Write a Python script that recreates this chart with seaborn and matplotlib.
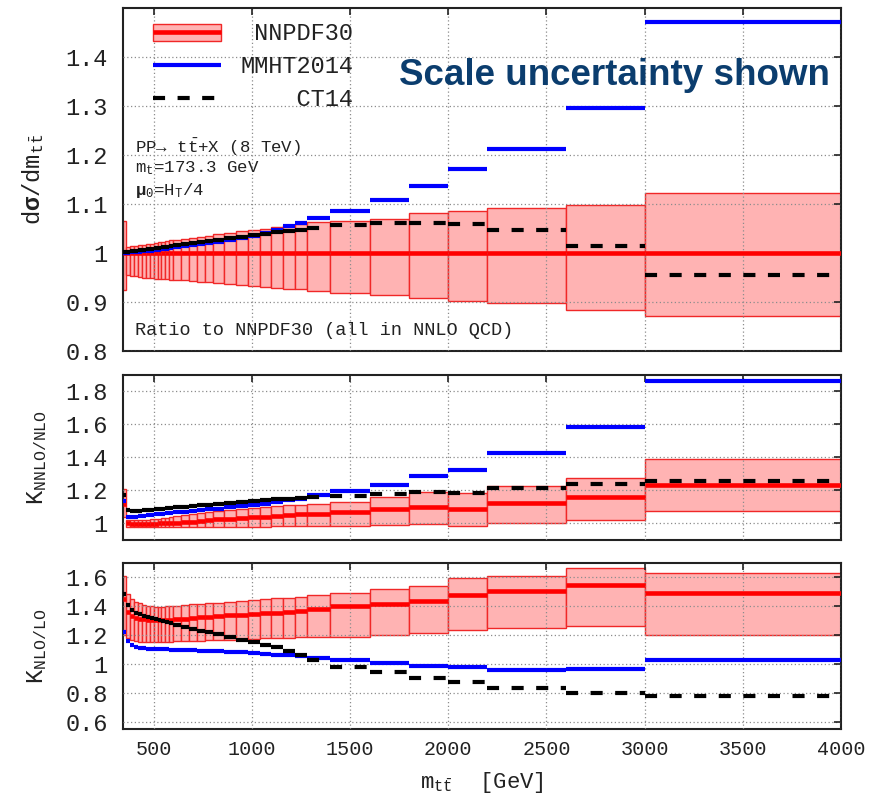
import numpy as np
import pandas as pd
import matplotlib
matplotlib.use("Agg")
import matplotlib.pyplot as plt
import seaborn as sns
from matplotlib.patches import Patch
from matplotlib.lines import Line2D
from matplotlib.legend_handler import HandlerTuple
from matplotlib.ticker import FuncFormatter

# ---------------- data ----------------
bin_edges = [345, 360, 380, 400, 420, 440, 460, 480, 500, 520, 540, 560, 580, 600,
             640, 680, 720, 760, 800, 860, 920, 980, 1040, 1100, 1160, 1220, 1280,
             1400, 1600, 1800, 2000, 2200, 2600, 3000, 4000]

# panel 1: ratio to NNPDF30
ratio_nnpdf = [1.0] * 34
ratio_nnpdf_up = [1.065, 1.013, 1.014, 1.015, 1.016, 1.017, 1.018, 1.019, 1.020, 1.022,
                  1.023, 1.024, 1.026, 1.027, 1.029, 1.031, 1.033, 1.035, 1.038, 1.041,
                  1.044, 1.047, 1.050, 1.053, 1.057, 1.060, 1.064, 1.066, 1.069, 1.082,
                  1.085, 1.092, 1.099, 1.122]
ratio_nnpdf_lo = [0.925, 0.955, 0.954, 0.953, 0.951, 0.950, 0.949, 0.948, 0.947, 0.947,
                  0.946, 0.946, 0.945, 0.945, 0.944, 0.943, 0.941, 0.940, 0.938, 0.936,
                  0.934, 0.932, 0.930, 0.928, 0.927, 0.926, 0.923, 0.918, 0.915, 0.908,
                  0.903, 0.897, 0.884, 0.871]
ratio_mmht = [1.001, 1.001, 1.002, 1.003, 1.003, 1.004, 1.004, 1.005, 1.006, 1.007,
              1.008, 1.009, 1.010, 1.012, 1.014, 1.016, 1.018, 1.020, 1.022, 1.026,
              1.030, 1.034, 1.040, 1.047, 1.055, 1.061, 1.071, 1.086, 1.109, 1.136,
              1.171, 1.213, 1.297, 1.472]
ratio_ct14 = [1.002, 1.003, 1.004, 1.005, 1.006, 1.007, 1.008, 1.009, 1.010, 1.011,
              1.012, 1.013, 1.015, 1.017, 1.019, 1.021, 1.023, 1.025, 1.027, 1.030,
              1.033, 1.036, 1.039, 1.042, 1.045, 1.048, 1.052, 1.057, 1.061, 1.061,
              1.059, 1.046, 1.015, 0.955]

# panel 2: K NNLO/NLO
knnlo_nnpdf = [1.120, 1.000, 0.997, 0.997, 0.997, 0.997, 0.998, 0.998, 0.999, 1.000,
               1.000, 1.000, 1.002, 1.005, 1.008, 1.012, 1.016, 1.020, 1.025, 1.030,
               1.035, 1.040, 1.042, 1.045, 1.050, 1.055, 1.060, 1.070, 1.085, 1.097,
               1.089, 1.125, 1.161, 1.236]
knnlo_nnpdf_up = [1.210, 1.020, 1.020, 1.020, 1.020, 1.022, 1.024, 1.026, 1.028, 1.030,
                  1.033, 1.036, 1.040, 1.045, 1.050, 1.056, 1.062, 1.067, 1.073, 1.080,
                  1.088, 1.095, 1.100, 1.105, 1.110, 1.115, 1.120, 1.131, 1.158, 1.188,
                  1.182, 1.230, 1.276, 1.388]
knnlo_nnpdf_lo = [1.040, 0.980, 0.978, 0.978, 0.978, 0.978, 0.978, 0.978, 0.978, 0.978,
                  0.978, 0.978, 0.978, 0.979, 0.979, 0.980, 0.980, 0.980, 0.980, 0.980,
                  0.980, 0.981, 0.981, 0.982, 0.982, 0.983, 0.983, 0.985, 0.990, 0.996,
                  0.984, 1.004, 1.024, 1.075]
knnlo_mmht = [1.135, 1.040, 1.040, 1.042, 1.045, 1.048, 1.050, 1.053, 1.055, 1.058,
              1.060, 1.062, 1.065, 1.068, 1.072, 1.076, 1.080, 1.085, 1.090, 1.097,
              1.104, 1.110, 1.118, 1.128, 1.140, 1.150, 1.170, 1.198, 1.236, 1.287,
              1.323, 1.428, 1.582, 1.861]
knnlo_ct14 = [1.175, 1.080, 1.075, 1.075, 1.077, 1.079, 1.081, 1.083, 1.085, 1.087,
              1.089, 1.091, 1.093, 1.097, 1.102, 1.107, 1.111, 1.115, 1.120, 1.127,
              1.133, 1.139, 1.143, 1.146, 1.150, 1.155, 1.160, 1.165, 1.178, 1.192,
              1.186, 1.218, 1.240, 1.255]

# panel 3: K NLO/LO
knlo_nnpdf = [1.450, 1.360, 1.330, 1.320, 1.315, 1.310, 1.305, 1.303, 1.302, 1.302,
              1.303, 1.304, 1.306, 1.310, 1.315, 1.320, 1.325, 1.328, 1.332, 1.338,
              1.343, 1.348, 1.352, 1.357, 1.362, 1.368, 1.380, 1.400, 1.418, 1.440,
              1.479, 1.504, 1.550, 1.493]
knlo_nnpdf_up = [1.610, 1.486, 1.450, 1.430, 1.420, 1.410, 1.405, 1.400, 1.398, 1.398,
                 1.398, 1.400, 1.402, 1.405, 1.410, 1.413, 1.416, 1.420, 1.425, 1.430,
                 1.436, 1.443, 1.450, 1.455, 1.460, 1.465, 1.477, 1.490, 1.520, 1.543,
                 1.593, 1.612, 1.664, 1.634]
knlo_nnpdf_lo = [1.200, 1.178, 1.165, 1.158, 1.155, 1.153, 1.152, 1.152, 1.152, 1.153,
                 1.154, 1.155, 1.156, 1.157, 1.158, 1.160, 1.162, 1.164, 1.166, 1.168,
                 1.172, 1.175, 1.178, 1.180, 1.183, 1.186, 1.190, 1.190, 1.200, 1.212,
                 1.235, 1.247, 1.262, 1.198]
knlo_mmht = [1.223, 1.160, 1.130, 1.118, 1.112, 1.108, 1.106, 1.105, 1.104, 1.103,
             1.102, 1.101, 1.100, 1.099, 1.097, 1.095, 1.093, 1.091, 1.088, 1.084,
             1.080, 1.076, 1.071, 1.066, 1.061, 1.055, 1.045, 1.030, 1.010, 0.984,
             0.979, 0.961, 0.968, 1.025]
knlo_ct14 = [1.486, 1.406, 1.372, 1.355, 1.345, 1.335, 1.326, 1.318, 1.310, 1.303,
             1.296, 1.290, 1.284, 1.272, 1.258, 1.245, 1.232, 1.220, 1.205, 1.188,
             1.170, 1.152, 1.134, 1.115, 1.090, 1.065, 1.025, 0.980, 0.942, 0.904,
             0.877, 0.836, 0.797, 0.776]

top_yticks = [0.8, 0.9, 1.0, 1.1, 1.2, 1.3, 1.4]
mid_yticks = [1.0, 1.2, 1.4, 1.6, 1.8]
bot_yticks = [0.6, 0.8, 1.0, 1.2, 1.4, 1.6]
x_ticks = [500, 1000, 1500, 2000, 2500, 3000, 3500, 4000]
series_names = [" NNPDF30", "MMHT2014", "    CT14"]

# ---------------- style ----------------
sns.set_style("white")
MONO = "Liberation Mono"
plt.rcParams["font.family"] = [MONO, "DejaVu Sans"]
plt.rcParams["mathtext.fontset"] = "custom"
plt.rcParams["mathtext.rm"] = MONO
plt.rcParams["mathtext.it"] = MONO + ":italic"
plt.rcParams["mathtext.bf"] = MONO + ":bold"

RED = "#ff0000"
FILL = "#ffb3b3"
EDGE = "#f02828"
BLUE = "#0000ff"
BLACK = "#000000"
LW = 3.0
DASH = (0, (2.9, 3.0))

edges = np.array(bin_edges, dtype=float)
lefts, rights = edges[:-1], edges[1:]
nb = len(lefts)


def seg_frame(vals):
    vals = np.asarray(vals, dtype=float)
    return pd.DataFrame({"x": np.r_[lefts, rights],
                         "y": np.r_[vals, vals],
                         "bin": np.r_[np.arange(nb), np.arange(nb)]})


def draw_panel(ax, center, up, lo, mmht, ct14):
    up = np.asarray(up); lo = np.asarray(lo)
    ax.bar(lefts, up - lo, width=rights - lefts, bottom=lo, align="edge",
           color=FILL, edgecolor=EDGE, linewidth=1.0, zorder=1)
    sns.lineplot(data=seg_frame(center), x="x", y="y", units="bin", estimator=None,
                 color=RED, lw=LW + 0.3, solid_capstyle="butt", ax=ax, legend=False, zorder=3)
    sns.lineplot(data=seg_frame(mmht), x="x", y="y", units="bin", estimator=None,
                 color=BLUE, lw=LW, solid_capstyle="butt", ax=ax, legend=False, zorder=4)
    sns.lineplot(data=seg_frame(ct14), x="x", y="y", units="bin", estimator=None,
                 color=BLACK, lw=LW, linestyle=DASH, dash_capstyle="butt",
                 ax=ax, legend=False, zorder=5)


fig = plt.figure(figsize=(8.81, 8.08), dpi=100)
ax1 = fig.add_axes([0.1396, 0.5656, 0.8150, 0.4244])
ax2 = fig.add_axes([0.1396, 0.3317, 0.8150, 0.2042])
ax3 = fig.add_axes([0.1396, 0.0978, 0.8150, 0.2054])

draw_panel(ax1, ratio_nnpdf, ratio_nnpdf_up, ratio_nnpdf_lo, ratio_mmht, ratio_ct14)
draw_panel(ax2, knnlo_nnpdf, knnlo_nnpdf_up, knnlo_nnpdf_lo, knnlo_mmht, knnlo_ct14)
draw_panel(ax3, knlo_nnpdf, knlo_nnpdf_up, knlo_nnpdf_lo, knlo_mmht, knlo_ct14)

fmt = FuncFormatter(lambda v, p: f"{v:g}")
for ax, yt, ylim in [(ax1, top_yticks, (0.8, 1.5)),
                     (ax2, mid_yticks, (0.9, 1.9)),
                     (ax3, bot_yticks, (0.55, 1.7))]:
    ax.set_xlim(344, 4000)
    ax.set_ylim(*ylim)
    ax.set_xticks(x_ticks)
    ax.set_yticks(yt)
    ax.yaxis.set_major_formatter(fmt)
    ax.set_axisbelow(False)
    ax.grid(True, linestyle=(0, (1, 2)), color="#8c8c8c", linewidth=0.9)
    ax.tick_params(direction="in", top=True, right=True, length=5, width=1.2,
                   colors="#222222", labelsize=17, pad=11)
    ax.tick_params(axis="x", labelsize=14.5, pad=8)
    for s in ax.spines.values():
        s.set_linewidth(1.5)
        s.set_color("#222222")
    ax.set_xlabel("")
    ax.set_ylabel("")

ax1.tick_params(axis="x", labelbottom=False)
ax2.tick_params(axis="x", labelbottom=False)

ax1.set_ylabel(r"d$\mathbf{\sigma}$/dm$_{\mathrm{t}\bar{\mathrm{t}}}$", fontsize=17,
               color="#222222", labelpad=14)
ax2.set_ylabel(r"K$_{\mathrm{NNLO/NLO}}$", fontsize=17, color="#222222", labelpad=12)
ax3.set_ylabel(r"K$_{\mathrm{NLO/LO}}$", fontsize=17, color="#222222", labelpad=12)
ax3.set_xlabel(r"m$_{\mathrm{t}\bar{\mathrm{t}}}$  [GeV]", fontsize=16,
               color="#222222", labelpad=8)

# annotations
tk = dict(transform=ax1.transAxes, fontsize=12.5, color="#222222", va="center", ha="left")
ax1.text(0.017, 0.595, r"PP→ t$\bar{\mathrm{t}}$+X (8 TeV)", **tk)
ax1.text(0.017, 0.534, r"m$_{\mathrm{t}}$=173.3 GeV", **tk)
ax1.text(0.017, 0.469, r"$\mathbf{\mu}_{\mathrm{0}}$=H$_{\mathrm{T}}$/4", **tk)
tk["fontsize"] = 13.4
ax1.text(0.017, 0.061, "Ratio to NNPDF30 (all in NNLO QCD)", **tk)
ax1.text(0.985, 0.802, "Scale uncertainty shown", transform=ax1.transAxes,
         fontsize=26.5, fontweight="bold", family="Liberation Sans", color="#0b3d6e",
         ha="right", va="center")

# legend
h_nnpdf = (Patch(facecolor=FILL, edgecolor=EDGE, linewidth=1.0),
           Line2D([], [], color=RED, lw=LW + 0.3, solid_capstyle="butt"))
h_mmht = Line2D([], [], color=BLUE, lw=LW, solid_capstyle="butt")
h_ct14 = Line2D([], [], color=BLACK, lw=LW, linestyle=DASH, dash_capstyle="butt")
leg = ax1.legend([h_nnpdf, h_mmht, h_ct14], series_names,
                 handler_map={tuple: HandlerTuple(ndivide=1, pad=0)},
                 loc="upper left", bbox_to_anchor=(0.012, 1.02), frameon=False,
                 fontsize=17, handlelength=2.9, handleheight=0.75,
                 handletextpad=0.8, labelspacing=0.42)
for t in leg.get_texts():
    t.set_color("#222222")

fig.savefig("out.png", dpi=100)
